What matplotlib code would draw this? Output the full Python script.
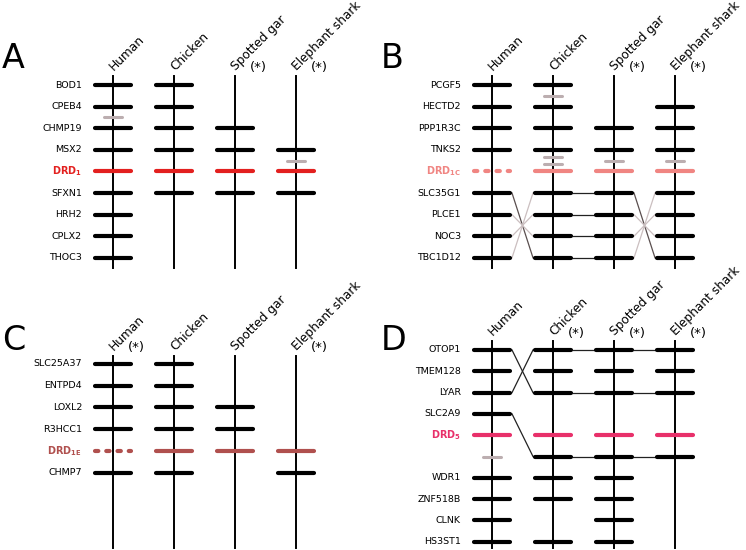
import numpy as np
import matplotlib
matplotlib.use('Agg')
import matplotlib.pyplot as plt

## 数据
species = ['Human', 'Chicken', 'Spotted gar', 'Elephant shark']

a_genes = ['BOD1', 'CPEB4', 'CHMP19', 'MSX2', r'$\mathbf{DRD_{1}}$', 'SFXN1', 'HRH2', 'CPLX2', 'THOC3']
a_rows = [[0, 1, 2, 3, 4, 5, 6, 7, 8],
          [0, 1, 2, 3, 4, 5],
          [2, 3, 4, 5],
          [3, 4, 5]]
a_gray = [(0, 1.5), (3, 3.5)]
a_star = [2, 3]
a_links = []

b_genes = ['PCGF5', 'HECTD2', 'PPP1R3C', 'TNKS2', r'$\mathbf{DRD_{1C}}$', 'SLC35G1', 'PLCE1', 'NOC3', 'TBC1D12']
b_rows = [[0, 1, 2, 3, 4, 5, 6, 7, 8],
          [0, 1, 2, 3, 4, 5, 6, 7, 8],
          [2, 3, 4, 5, 6, 7, 8],
          [1, 2, 3, 4, 5, 6, 7, 8]]
b_gray = [(1, 0.5), (1, 3.35), (1, 3.68), (2, 3.5), (3, 3.5)]
b_star = [2, 3]
# (from column, from row, to row, kind)
b_links = [(0, 5, 8, 'dark'), (0, 6, 7, 'light'), (0, 7, 6, 'light'), (0, 8, 5, 'light'),
           (1, 5, 5, 'black'), (1, 6, 6, 'black'), (1, 7, 7, 'black'), (1, 8, 8, 'black'),
           (2, 5, 8, 'dark'), (2, 6, 7, 'light'), (2, 7, 6, 'light'), (2, 8, 5, 'light')]

c_genes = ['SLC25A37', 'ENTPD4', 'LOXL2', 'R3HCC1', r'$\mathbf{DRD_{1E}}$', 'CHMP7']
c_rows = [[0, 1, 2, 3, 4, 5],
          [0, 1, 2, 3, 4, 5],
          [2, 3, 4],
          [4, 5]]
c_gray = []
c_star = [0, 3]
c_links = []

d_genes = ['OTOP1', 'TMEM128', 'LYAR', 'SLC2A9', r'$\mathbf{DRD_{5}}$', '', 'WDR1', 'ZNF518B', 'CLNK', 'HS3ST1']
d_rows = [[0, 1, 2, 3, 4, 6, 7, 8, 9],
          [0, 1, 2, 4, 5, 6, 7, 9],
          [0, 1, 2, 4, 5, 6, 7, 8, 9],
          [0, 1, 2, 4, 5]]
d_gray = [(0, 5)]
d_star = [1, 2, 3]
d_links = [(0, 0, 2, 'black'), (0, 2, 0, 'black'), (0, 3, 5, 'black'),
           (1, 0, 0, 'black'), (1, 2, 2, 'black'), (1, 5, 5, 'black'),
           (2, 0, 0, 'black'), (2, 2, 2, 'black'), (2, 5, 5, 'black')]

## 版面 (像素坐标)
panels = [
    dict(letter='A', genes=a_genes, rows=a_rows, gray=a_gray, star=a_star, links=a_links,
         drd=4, color='#e3201f', dashed=False, x0=113, y0=85, dy=21.6, top=76, bot=268, ly=68),
    dict(letter='B', genes=b_genes, rows=b_rows, gray=b_gray, star=b_star, links=b_links,
         drd=4, color='#f08582', dashed=True, x0=492, y0=85, dy=21.6, top=76, bot=268, ly=68),
    dict(letter='C', genes=c_genes, rows=c_rows, gray=c_gray, star=c_star, links=c_links,
         drd=4, color='#b0504e', dashed=True, x0=113, y0=364, dy=21.7, top=356, bot=548, ly=350),
    dict(letter='D', genes=d_genes, rows=d_rows, gray=d_gray, star=d_star, links=d_links,
         drd=4, color='#e8306a', dashed=False, x0=492, y0=350, dy=21.3, top=341, bot=548, ly=350),
]
dx = 61
half = 18
link_col = {'dark': '#5a4f4f', 'light': '#cbbfc0', 'black': '#222222'}

fig = plt.figure(figsize=(7.46, 5.5), dpi=100)
ax = fig.add_axes([0, 0, 1, 1])
ax.set_xlim(0, 746)
ax.set_ylim(550, 0)
ax.axis('off')

for p in panels:
    xs = p['x0'] + dx * np.arange(len(species))
    ys = p['y0'] + p['dy'] * np.arange(len(p['genes']))
    ax.text(p['x0'] - 111, p['ly'], p['letter'], fontsize=24, ha='left', va='baseline')

    # 物种轴线与标题
    for i, name in enumerate(species):
        ax.plot([xs[i], xs[i]], [p['top'], p['bot']], color='black', lw=1.4, zorder=2)
        ax.text(xs[i] + 1, p['top'] - 5, name, rotation=45, rotation_mode='anchor',
                ha='left', va='baseline', fontsize=8.7)
        if i in p['star']:
            ax.text(xs[i] + 23, p['top'] - 8, '(*)', ha='center', va='center', fontsize=9.5)

    # 基因名
    for j, g in enumerate(p['genes']):
        if j == p['drd']:
            ax.text(xs[0] - 31, ys[j], g, ha='right', va='center', fontsize=7,
                    color=p['color'])
        else:
            ax.text(xs[0] - 31, ys[j], g, ha='right', va='center', fontsize=6.8)

    # 基因条
    for i, rows in enumerate(p['rows']):
        for j in rows:
            if j == p['drd']:
                if p['dashed'] and i == 0:
                    ax.plot([xs[i] - half, xs[i] + half], [ys[j], ys[j]], color=p['color'],
                            lw=3, dashes=(0.8, 1.9), dash_capstyle='round', zorder=3)
                else:
                    ax.plot([xs[i] - half, xs[i] + half], [ys[j], ys[j]], color=p['color'],
                            lw=3, solid_capstyle='round', zorder=3)
            else:
                ax.plot([xs[i] - half, xs[i] + half], [ys[j], ys[j]], color='black',
                        lw=3, solid_capstyle='round', zorder=3)

    for i, r in p['gray']:
        y = p['y0'] + p['dy'] * r
        ax.plot([xs[i] - 9, xs[i] + 9], [y, y], color='#bcaeb0', lw=2.2,
                solid_capstyle='round', zorder=3)

    # 连线
    for i, r1, r2, kind in p['links']:
        ax.plot([xs[i] + half + 2, xs[i + 1] - half - 2], [ys[r1], ys[r2]],
                color=link_col[kind], lw=0.9, zorder=1)

fig.savefig('out.png', dpi=100)
